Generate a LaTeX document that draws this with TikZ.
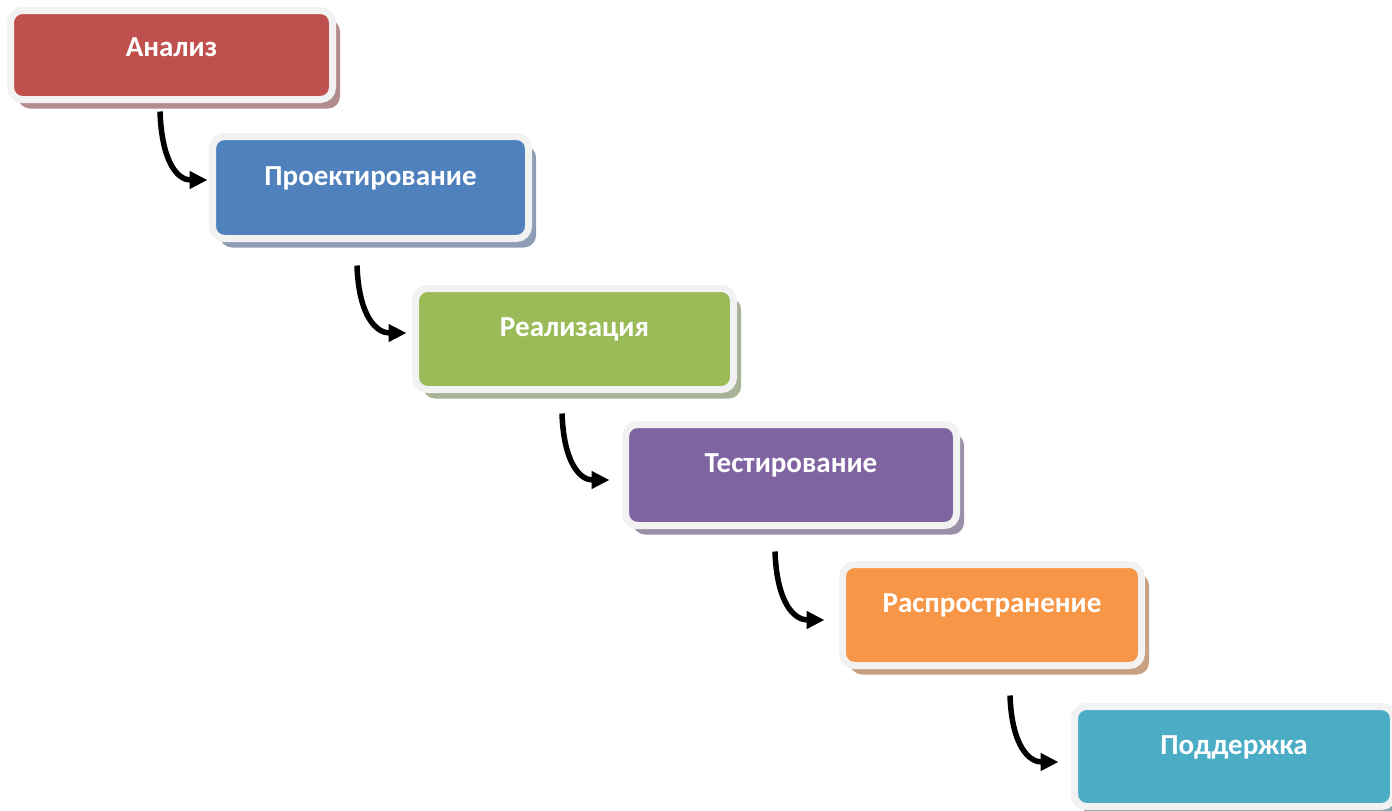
\documentclass[tikz,border=0pt]{standalone}
\usepackage{fontspec}
\setmainfont{Carlito}
\usetikzlibrary{arrows.meta,shadows,calc}
\definecolor{frame}{HTML}{F2F2F2}
\definecolor{c1}{HTML}{C0504D}
\definecolor{c2}{HTML}{4F81BD}
\definecolor{c3}{HTML}{9BBB59}
\definecolor{c4}{HTML}{8064A2}
\definecolor{c5}{HTML}{F79646}
\definecolor{c6}{HTML}{4BACC6}
\definecolor{s1}{HTML}{B28C8C}
\definecolor{s2}{HTML}{8E9DB3}
\definecolor{s3}{HTML}{A8B296}
\definecolor{s4}{HTML}{9A90A8}
\definecolor{s5}{HTML}{C9A080}
\definecolor{s6}{HTML}{86A6AE}
\begin{document}
\begin{tikzpicture}[x=1pt,y=-1pt,
  stage/.style={rectangle, rounded corners=12pt, line width=7pt, draw=frame,
    text=white, font=\bfseries\fontsize{29}{34}\selectfont, inner sep=0pt,
    text height=20pt, text depth=24.6pt, minimum height=101pt},
  shade/.style={drop shadow={shadow xshift=7.5pt, shadow yshift=-9pt, fill=#1, opacity=1}},
  arr/.style={line width=5.5pt, -{Triangle[length=18pt,width=17pt]}},
  hook/.style={out=-88, in=180, out looseness=1.6, in looseness=0.9}]
\useasboundingbox (0,0) rectangle (1392,811);
\fill[white] (0,0) rectangle (1392,811);

\node[stage, fill=c1, shade=s1, minimum width=322pt, minimum height=89pt, text depth=16.6pt] (b1) at (171.5,55) {Анализ};
\node[stage, fill=c2, shade=s2, minimum width=316pt, minimum height=102pt] (b2) at (370.5,187.5) {Проектирование};
\node[stage, fill=c3, shade=s3, minimum width=318pt] (b3) at (574.5,339) {Реализация};
\node[stage, fill=c4, shade=s4, minimum width=331pt] (b4) at (791,475) {Тестирование};
\node[stage, fill=c5, shade=s5, minimum width=299pt] (b5) at (992,615) {Распространение};
\node[stage, fill=c6, shade=s6, minimum width=319pt, minimum height=100pt] (b6) at (1234,756.5) {Поддержка};

\draw[arr] ($(b1.south)+(-11.5,8.5)$) to[hook] ($(b2.west)+(-1.5,-7.5)$);
\draw[arr] ($(b2.south)+(-13.5,23.5)$) to[hook] ($(b3.west)+(-5.5,-6)$);
\draw[arr] ($(b3.south)+(-12.5,20.5)$) to[hook] ($(b4.west)+(-12.5,5)$);
\draw[arr] ($(b4.south)+(-16,22.5)$) to[hook] ($(b5.west)+(-14.5,5)$);
\draw[arr] ($(b5.south)+(18,26.5)$) to[hook] ($(b6.west)+(-12.5,5.5)$);
\end{tikzpicture}
\end{document}
